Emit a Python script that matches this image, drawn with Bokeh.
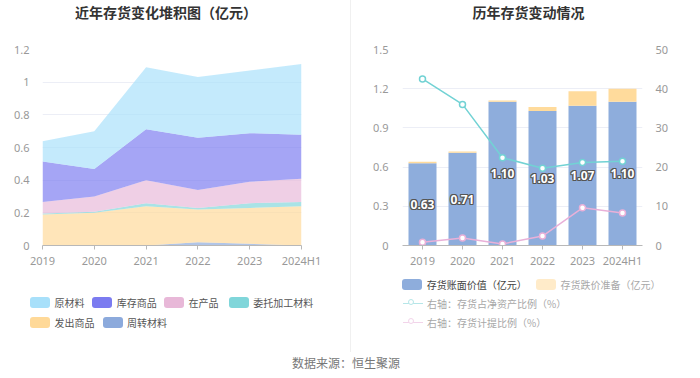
from bokeh.plotting import figure
from bokeh.models import (ColumnDataSource, Range1d, LinearAxis, FixedTicker,
                          NumeralTickFormatter, Div)
from bokeh.layouts import row, column
from bokeh.embed import file_html
from bokeh.resources import INLINE
from bokeh.core.properties import value

# ---------------- data ----------------
years = ["2019", "2020", "2021", "2022", "2023", "2024H1"]

# left: stacked inventory composition (亿元), bottom -> top
turnover = [0.0, 0.0, 0.0, 0.02, 0.01, 0.0]          # 周转材料
shipped = [0.19, 0.20, 0.24, 0.20, 0.22, 0.24]        # 发出商品
consign = [0.006, 0.007, 0.019, 0.01, 0.029, 0.027]   # 委托加工材料
wip = [0.07, 0.093, 0.141, 0.11, 0.131, 0.141]        # 在产品
stock = [0.249, 0.168, 0.311, 0.319, 0.298, 0.27]     # 库存商品
raw = [0.123, 0.232, 0.38, 0.373, 0.383, 0.433]       # 原材料

left_names = ["周转材料", "发出商品", "委托加工材料", "在产品", "库存商品", "原材料"]
left_ticks = [0, 0.2, 0.4, 0.6, 0.8, 1.0, 1.2]

# right: book value, impairment, ratios
book = [0.63, 0.71, 1.10, 1.03, 1.07, 1.10]           # 存货账面价值（亿元）
impair = [0.01, 0.01, 0.01, 0.03, 0.11, 0.10]         # 存货跌价准备（亿元）
ratio_net = [42.5, 36.0, 22.4, 19.7, 21.2, 21.5]      # 存货占净资产比例（%）
ratio_prov = [0.8, 1.9, 0.4, 2.4, 9.6, 8.3]           # 存货计提比例（%）
right_names = ["存货账面价值（亿元）", "存货跌价准备（亿元）",
               "右轴：存货占净资产比例（%）", "右轴：存货计提比例（%）"]
right_ticks = [0, 0.3, 0.6, 0.9, 1.2, 1.5]
right2_ticks = [0, 10, 20, 30, 40, 50]

# ---------------- styles ----------------
CJK = "Noto Sans CJK SC"
NUM = "Noto Sans"
area_colors = ["#8caadc", "#ffd998", "#80d6da", "#e8b8d8", "#7b7bf0", "#a8e0fa"]
bar_colors = ["#8eaddc", "#ffdb9c"]
TEAL = "#72d2d4"
PINK = "#e9b0d8"
TICK_C = "#999999"
AXIS_C = "#b8b8b8"
GRID_C = "#eceef6"

xs = list(range(len(years)))
labels_map = {i: y for i, y in enumerate(years)}

LEFT_W, RIGHT_W = 350, 341
TITLE_H, CHART_H, LEG_H = 38, 237, 60
FRAME_TOP, FRAME_BOT = 49, 245           # page px
LEG_TOP = TITLE_H + CHART_H              # page y of legend block top
R0 = LEFT_W + 1                          # page x of right block


def style_axes(p):
    p.outline_line_color = None
    p.xgrid.visible = False
    p.ygrid.grid_line_color = GRID_C
    for ax in p.xaxis:
        ax.ticker = FixedTicker(ticks=xs)
        ax.major_label_overrides = labels_map
        ax.axis_line_color = AXIS_C
        ax.major_tick_line_color = AXIS_C
        ax.major_tick_in = 0
        ax.major_tick_out = 4
        ax.minor_tick_line_color = None
        ax.major_label_standoff = 3
        ax.major_label_text_color = TICK_C
        ax.major_label_text_font = NUM
        ax.major_label_text_font_size = "11px"
    for ax in p.yaxis:
        ax.axis_line_color = None
        ax.major_tick_line_color = None
        ax.minor_tick_line_color = None
        ax.major_label_text_color = TICK_C
        ax.major_label_text_font = NUM
        ax.major_label_text_font_size = "11px"


# ---------------- left chart ----------------
src1 = ColumnDataSource(dict(x=xs, turnover=turnover, shipped=shipped, consign=consign,
                             wip=wip, stock=stock, raw=raw))
p1 = figure(width=LEFT_W, height=CHART_H, x_range=Range1d(0, len(years) - 1),
            y_range=Range1d(left_ticks[0], left_ticks[-1]),
            output_backend="svg", toolbar_location=None, title=None,
            min_border_left=42, min_border_right=LEFT_W - 301,
            min_border_top=FRAME_TOP - TITLE_H,
            min_border_bottom=TITLE_H + CHART_H - FRAME_BOT)
p1.varea_stack(stackers=["turnover", "shipped", "consign", "wip", "stock", "raw"],
               x="x", source=src1, color=area_colors, fill_alpha=0.68)
style_axes(p1)
p1.yaxis.ticker = FixedTicker(ticks=left_ticks)
p1.yaxis.formatter = NumeralTickFormatter(format="0.[0]")
p1.yaxis.major_label_standoff = 7

# ---------------- right chart ----------------
mid = [v / 2 for v in book]
src2 = ColumnDataSource(dict(x=xs, book=book, impair=impair, mid=mid,
                             lab=[f"{v:.2f}" for v in book]))
p2 = figure(width=RIGHT_W, height=CHART_H, x_range=Range1d(-0.5, len(years) - 0.5),
            y_range=Range1d(right_ticks[0], right_ticks[-1]),
            output_backend="svg", toolbar_location=None, title=None,
            min_border_left=402 - R0, min_border_right=R0 + RIGHT_W - 642,
            min_border_top=FRAME_TOP - TITLE_H,
            min_border_bottom=TITLE_H + CHART_H - FRAME_BOT)
p2.extra_y_ranges = {"r": Range1d(right2_ticks[0], right2_ticks[-1])}
bars = p2.vbar_stack(["book", "impair"], x="x", width=0.7, source=src2,
                     color=bar_colors, line_color=None)
# outlined value labels: dark halo + white text
for dx, dy in [(-1, 0), (1, 0), (0, -1), (0, 1), (-1, -1), (1, 1), (-1, 1), (1, -1)]:
    p2.text(x="x", y="mid", text="lab", source=src2, text_align="center",
            text_baseline="middle", text_color="#555555", x_offset=dx, y_offset=dy,
            text_font_size="12px", text_font_style="bold", text_font=value(NUM))
p2.text(x="x", y="mid", text="lab", source=src2, text_align="center",
        text_baseline="middle", text_color="white",
        text_font_size="12px", text_font_style="bold", text_font=value(NUM))

p2.line(xs, ratio_net, y_range_name="r", line_color=TEAL, line_width=1.5)
p2.scatter(xs, ratio_net, y_range_name="r", marker="circle", size=6,
           fill_color="white", line_color=TEAL, line_width=1.5)
p2.line(xs, ratio_prov, y_range_name="r", line_color=PINK, line_width=1.5)
p2.scatter(xs, ratio_prov, y_range_name="r", marker="circle", size=6,
           fill_color="white", line_color=PINK, line_width=1.5)

ax_r = LinearAxis(y_range_name="r", ticker=FixedTicker(ticks=right2_ticks),
                  formatter=NumeralTickFormatter(format="0"))
p2.add_layout(ax_r, "right")
style_axes(p2)
p2.yaxis.major_label_standoff = 8
p2.yaxis[0].ticker = FixedTicker(ticks=right_ticks)
p2.yaxis[0].formatter = NumeralTickFormatter(format="0.[0]")
ax_r.major_label_standoff = 7


# ---------------- HTML legends ----------------
def patch_item(px, cy, color, label, text_color, opacity=1.0):
    top = cy - LEG_TOP
    return (f'<div style="position:absolute;left:{px}px;top:{top - 5.5}px;width:20px;height:11px;'
            f'border-radius:3px;background:{color};opacity:{opacity};"></div>'
            f'<div style="position:absolute;left:{px + 24.5}px;top:{top - 7}px;height:14px;'
            f'line-height:14px;white-space:nowrap;font-family:\'{CJK}\';font-size:10px;'
            f'color:{text_color};">{label}</div>')


def line_item(px, cy, color, label, text_color):
    top = cy - LEG_TOP
    return (f'<div style="position:absolute;left:{px}px;top:{top - 0.75}px;width:20px;height:1.5px;'
            f'background:{color};"></div>'
            f'<div style="position:absolute;left:{px + 5.5}px;top:{top - 4.5}px;width:6px;height:6px;'
            f'border:1.5px solid {color};border-radius:50%;background:white;"></div>'
            f'<div style="position:absolute;left:{px + 24.5}px;top:{top - 7}px;height:14px;'
            f'line-height:14px;white-space:nowrap;font-family:\'{CJK}\';font-size:10px;'
            f'color:{text_color};">{label}</div>')


col_of = dict(zip(left_names, area_colors))
leg_left_pos = [("原材料", 30, 302.7), ("库存商品", 92.3, 302.7), ("在产品", 164, 302.7),
                ("委托加工材料", 228.7, 302.7), ("发出商品", 30, 322.5), ("周转材料", 102.5, 322.5)]
html1 = "".join(patch_item(px, cy, col_of[n], n, "#555555") for n, px, cy in leg_left_pos)
leg1 = Div(text=f'<div style="position:relative;width:{LEFT_W}px;height:{LEG_H}px;">{html1}</div>',
           width=LEFT_W, height=LEG_H, margin=0)

html2 = (patch_item(402.3 - R0, 284.7, bar_colors[0], right_names[0], "#444444")
         + patch_item(536 - R0, 284.7, bar_colors[1], right_names[1], "#a8a8a8", 0.55)
         + line_item(402.5 - R0, 303.5, "#b6e6e8", right_names[2], "#a8a8a8")
         + line_item(402.5 - R0, 322.7, "#f2d4ea", right_names[3], "#a8a8a8"))
leg2 = Div(text=f'<div style="position:relative;width:{RIGHT_W}px;height:{LEG_H}px;">{html2}</div>',
           width=RIGHT_W, height=LEG_H, margin=0)


# ---------------- titles / layout ----------------
def title_div(text, width, shift):
    return Div(text=f'<div style="width:{width}px;text-align:center;position:relative;'
                    f'left:{shift}px;font-family:\'{CJK}\';font-size:14px;font-weight:bold;'
                    f'color:#333333;line-height:14px;margin:0;padding:5px 0 0 0;">{text}</div>',
               width=width, height=TITLE_H, margin=0)


t1 = title_div("近年存货变化堆积图（亿元）", LEFT_W, -9)
t2 = title_div("历年存货变动情况", RIGHT_W, 7)
divider = Div(text="", width=1, height=352, margin=0,
              styles={"background-color": "#f0f0f0"})
footer = Div(text=f'<div style="width:692px;text-align:center;font-family:\'{CJK}\';'
                  f'font-size:12px;color:#777777;line-height:12px;padding-top:5px;">'
                  f'数据来源：恒生聚源</div>', width=692, height=18, margin=0)

layout = column(row(column(t1, p1, leg1), divider, column(t2, p2, leg2)), footer)

open("out.html", "w").write(file_html(layout, INLINE))
